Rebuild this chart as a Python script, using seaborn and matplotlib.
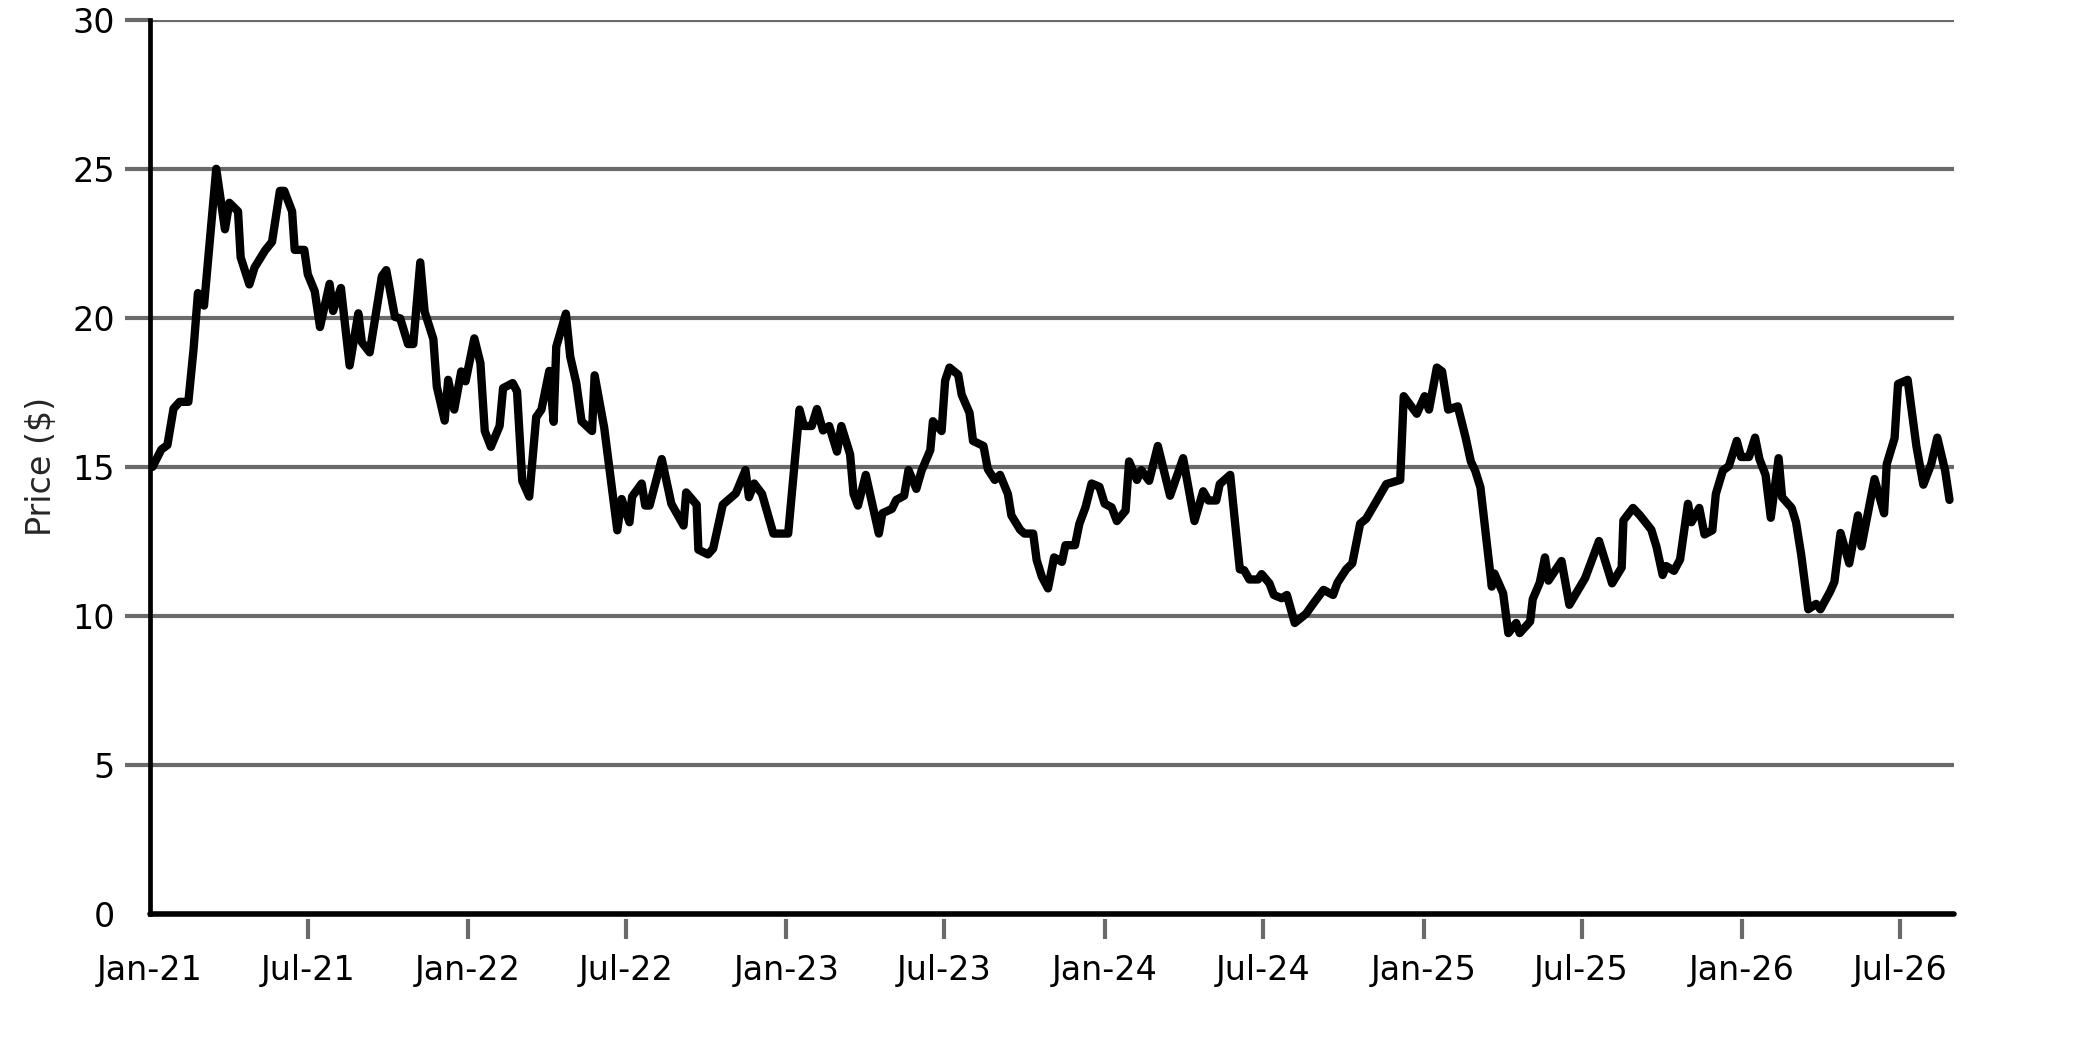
import pandas as pd
import matplotlib
matplotlib.use('Agg')
import matplotlib.pyplot as plt
import matplotlib.dates as mdates
import seaborn as sns

# Days since 2021-01-01 for each turning point of the line
day_offset = [
    3, 13, 20, 27, 34, 44, 50, 55, 62, 76, 86, 91, 101, 104, 114, 120, 132, 140, 149, 154,
    163, 166, 177, 181, 189, 195, 206, 210, 219, 229, 239, 243, 252, 266, 271, 281, 287, 296, 302, 310,
    315, 325, 329, 338,
    342, 349, 357, 362, 372, 379, 384, 391, 401, 405, 416, 421, 427, 435, 443, 449, 458, 463, 466, 477,
    482, 489, 495, 507, 510, 521, 531, 536, 541, 550, 553, 564, 568, 573, 587, 598, 612, 615, 627, 629,
    640, 646, 657, 672, 683,
    687, 693, 702, 715, 732, 745, 750, 759, 765, 772, 779, 788, 793, 803, 807, 812, 821, 836, 840, 851,
    856, 865, 870, 879, 885, 895, 898, 908, 912, 917, 927, 931, 940, 944, 956, 961, 969, 975, 984, 988,
    998, 1003, 1013, 1017, 1023, 1030,
    1037, 1046, 1050, 1061, 1066, 1073, 1080, 1089, 1095, 1103, 1109, 1119, 1123, 1132, 1137, 1146, 1156,
    1170, 1185, 1198, 1208, 1214, 1223, 1227, 1239, 1250, 1255, 1261, 1271, 1275, 1284, 1289, 1298, 1304,
    1313, 1326, 1334, 1346, 1357, 1362, 1372,
    1379, 1388, 1395, 1405, 1418, 1434, 1438, 1453, 1462, 1467, 1476, 1482, 1489, 1500, 1509, 1515, 1520,
    1526, 1539, 1542, 1552, 1558, 1567, 1571, 1583, 1586, 1594, 1600, 1604, 1619, 1628, 1646, 1662, 1677,
    1688, 1690, 1701, 1709,
    1722, 1728, 1735, 1739, 1748, 1755, 1764, 1768, 1777, 1783, 1792, 1796, 1804, 1811, 1820, 1825, 1834,
    1841, 1846, 1853, 1859, 1868, 1872, 1883, 1888, 1894, 1902, 1911, 1916, 1927, 1932, 1939, 1949, 1959,
    1963, 1978, 1989, 1992, 2001, 2005, 2016, 2026, 2034, 2043, 2050, 2059, 2064,
]

price = [
    15.0, 15.58, 15.73, 16.95, 17.18, 17.18, 18.95, 20.83, 20.41, 25.0, 22.97, 23.86, 23.57, 22.03, 21.12,
    21.69, 22.26, 22.55, 24.26, 24.26, 23.57, 22.28, 22.28, 21.46, 20.89, 19.69, 21.14, 20.23, 21.0, 18.40,
    20.15, 19.18, 18.84, 21.40, 21.60, 20.03, 19.98, 19.12, 19.12, 21.86, 20.21, 19.29, 17.69, 16.55,
    17.92, 16.92, 18.2, 17.87, 19.31, 18.48, 16.2, 15.67, 16.37, 17.64, 17.81, 17.53, 14.53, 14.0, 16.67,
    16.92, 18.22, 16.51, 19.03, 20.14, 18.7, 17.81, 16.53, 16.2, 18.07, 16.31, 14.0, 12.87, 13.92, 13.14,
    14.0, 14.44, 13.7, 13.7, 15.26, 13.76, 13.03, 14.14, 13.73, 12.22, 12.06, 12.26, 13.73, 14.11, 14.89,
    13.98, 14.44, 14.09, 12.76, 12.76, 16.92, 16.37, 16.37, 16.94, 16.22, 16.37, 15.51, 16.37, 15.42, 14.09,
    13.7, 14.73, 12.76, 13.44, 13.59, 13.89, 14.03, 14.89, 14.26, 14.87, 15.56, 16.53, 16.2, 17.89, 18.33,
    18.09, 17.42, 16.81, 15.87, 15.7, 14.92, 14.56, 14.73, 14.09, 13.37, 12.89, 12.76, 12.76, 11.87, 11.31,
    10.92,
    11.96, 11.81, 12.37, 12.37, 13.09, 13.64, 14.44, 14.33, 13.76, 13.64, 13.18, 13.53, 15.18, 14.56, 14.89,
    14.53, 15.7, 14.03, 15.29, 13.18, 14.18, 13.87, 13.87, 14.42, 14.73, 11.56, 11.53, 11.22, 11.22, 11.4,
    11.09, 10.7, 10.59, 10.7, 9.76, 10.07, 10.4, 10.87, 10.7, 11.11, 11.56,
    11.76, 13.09, 13.26, 13.76, 14.42, 14.56, 17.37, 16.78, 17.37, 16.92, 18.33, 18.2, 16.92, 17.03, 15.98,
    15.18, 14.87, 14.31, 10.98, 11.42, 10.76, 9.42, 9.76, 9.42, 9.81, 10.56, 11.11, 11.96, 11.18, 11.84,
    10.37, 11.26, 12.51, 11.09, 11.62, 13.2, 13.62, 13.37,
    12.89, 12.31, 11.37, 11.67, 11.51, 11.89, 13.76, 13.14, 13.62, 12.73, 12.87, 14.09, 14.87, 15.03, 15.87,
    15.33, 15.33, 15.98, 15.26, 14.73, 13.29, 15.29, 13.98, 13.62, 13.14, 12.03, 10.22, 10.4, 10.22, 10.81,
    11.14, 12.78, 11.76, 13.37, 12.33, 14.59, 13.44, 15.09, 15.96, 17.78, 17.92, 15.7, 14.4, 15.09, 15.98,
    14.87, 13.89,
]

y_ticks = [0, 5, 10, 15, 20, 25, 30]

start = pd.Timestamp('2021-01-01')
end = start + pd.Timedelta(days=2069)

df = pd.DataFrame({
    'date': start + pd.to_timedelta(day_offset, unit='D'),
    'price': price,
})

sns.set_style('white')
plt.rcParams['font.family'] = ['DejaVu Sans']

grey = '#6a6a6a'

fig = plt.figure(figsize=(10.415, 5.21), dpi=200)
ax = fig.add_axes([0.072, 0.123, 0.866, 0.858])

ax.yaxis.grid(True, color=grey, linewidth=1.5)
ax.xaxis.grid(False)
ax.set_axisbelow(True)

sns.lineplot(data=df, x='date', y='price', color='black', linewidth=3.0, ax=ax, zorder=4)

ax.axhline(0, color='black', linewidth=2.0, zorder=5, clip_on=False)

ax.set_xlim(start, end)
ax.set_ylim(0, 30)
ax.set_yticks(y_ticks)
ax.xaxis.set_major_locator(mdates.MonthLocator(bymonth=[1, 7]))
ax.xaxis.set_major_formatter(mdates.DateFormatter('%b-%y'))

for side in ['top', 'right']:
    ax.spines[side].set_visible(False)
ax.spines['bottom'].set_position(('outward', 2))
ax.spines['bottom'].set_visible(False)
ax.spines['left'].set_color('black')
ax.spines['left'].set_linewidth(1.7)
ax.spines['left'].set_zorder(5)

ax.tick_params(axis='y', left=True, length=9, width=1.5, color=grey, pad=3.6,
               labelsize=12, labelcolor='black')
ax.tick_params(axis='x', bottom=True, length=7.2, width=1.5, color=grey, pad=5.4,
               labelsize=12, labelcolor='black')

ax.set_xlabel('')
ax.set_ylabel('Price ($)', fontsize=12, labelpad=5)

# no tick marks at the origin
ax.xaxis.get_major_ticks()[0].tick1line.set_visible(False)
ax.yaxis.get_major_ticks()[0].tick1line.set_visible(False)

fig.savefig('out.png', dpi=200)
